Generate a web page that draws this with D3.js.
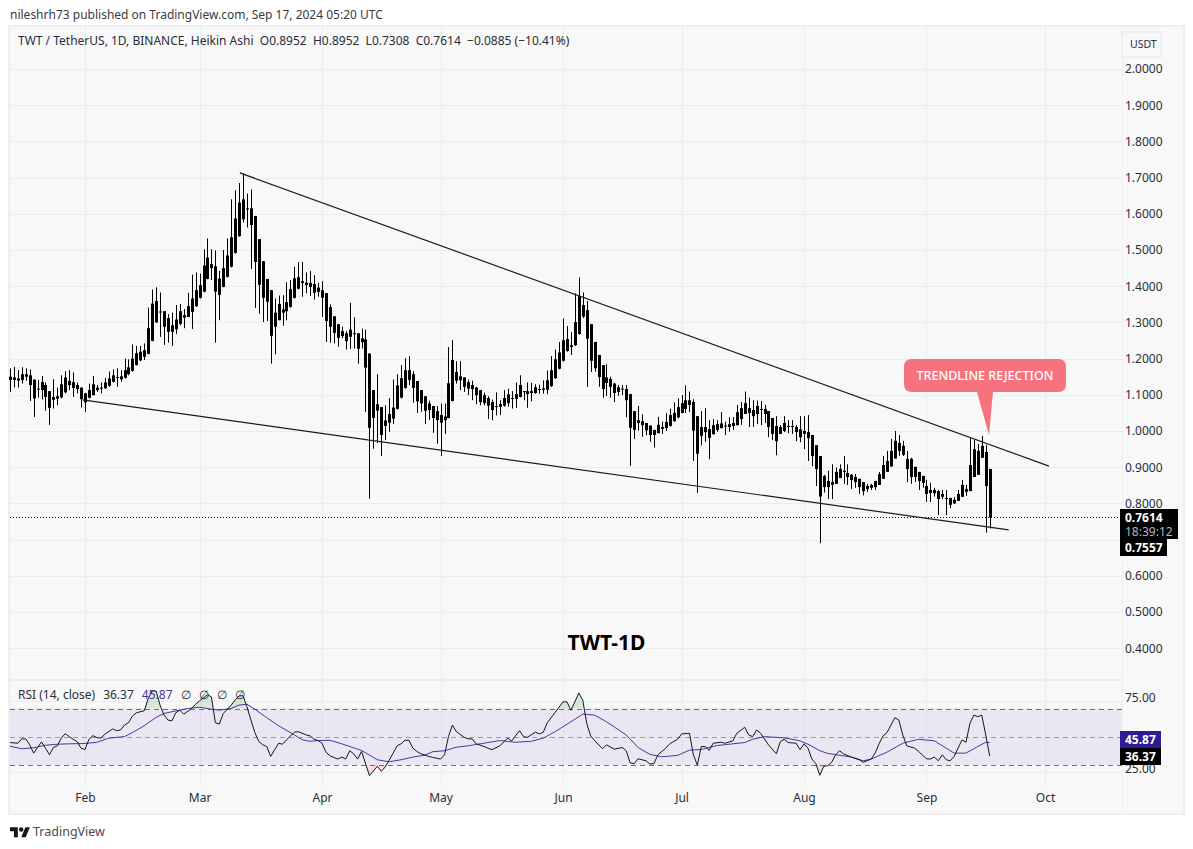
<!DOCTYPE html>
<html><head><meta charset="utf-8">
<script src="https://cdnjs.cloudflare.com/ajax/libs/d3/7.8.5/d3.min.js"></script>
<style>html,body{margin:0;padding:0;background:#fff}svg{display:block}text{font-family:"Noto Sans",sans-serif}</style>
</head><body><svg id="c" width="1193" height="849"></svg>
<script>
const firstDay = Date.UTC(2024,0,13);
const candleHigh = [1.173,1.177,1.168,1.176,1.173,1.170,1.142,1.141,1.152,1.134,
1.110,1.143,1.120,1.154,1.165,1.168,1.162,1.134,1.120,1.104,
1.131,1.152,1.127,1.134,1.147,1.164,1.170,1.173,1.168,1.200,
1.198,1.239,1.235,1.235,1.242,1.341,1.391,1.397,1.383,1.331,
1.323,1.327,1.348,1.351,1.337,1.382,1.432,1.438,1.435,1.502,
1.532,1.502,1.499,1.442,1.500,1.532,1.640,1.665,1.685,1.712,
1.656,1.667,1.594,1.530,1.469,1.420,1.389,1.366,1.374,1.375,
1.411,1.417,1.454,1.466,
1.467,1.438,1.442,1.431,1.409,1.414,1.381,1.350,1.317,1.295,
1.288,1.276,1.354,1.314,1.270,1.283,1.280,1.214,1.113,1.157,
1.066,1.071,1.091,1.142,1.157,1.182,1.201,1.207,1.165,1.138,
1.113,1.096,1.084,1.069,1.069,1.076,1.076,1.232,1.251,1.193,
1.193,1.148,1.142,1.139,1.122,1.113,1.106,1.096,1.087,1.107,
1.085,1.113,1.117,1.110,1.134,1.154,1.110,1.134,1.133,1.129,
1.128,1.140,1.167,1.207,1.225,1.246,1.311,1.290,1.273,1.380,1.424,1.383,
1.359,1.295,1.246,1.210,1.182,1.184,1.150,1.133,1.127,1.127,
1.127,1.102,1.055,1.069,1.046,1.022,1.015,1.003,1.039,1.026,
1.049,1.062,1.079,1.090,1.099,1.126,1.109,1.088,1.041,1.055,
1.063,1.030,1.033,1.030,1.052,1.026,1.038,1.038,1.072,1.080,
1.109,1.092,1.085,1.084,1.083,1.072,1.055,1.036,1.041,1.016,
1.041,1.030,1.030,1.016,1.041,1.041,1.044,0.989,0.961,
0.931,0.879,0.890,0.908,0.899,0.908,0.931,0.908,0.881,0.881,
0.868,0.859,0.854,0.854,0.862,0.887,0.931,0.945,0.978,1.000,
0.989,0.973,0.945,0.926,0.901,0.887,0.876,0.865,0.857,0.843,
0.837,0.837,0.837,0.815,0.818,0.837,0.865,0.851,0.980,0.975,0.964,0.986,0.962,0.8952];
const candleTop = [1.150,1.148,1.145,1.157,1.157,1.154,1.142,1.117,1.135,1.127,
1.110,1.094,1.096,1.129,1.148,1.138,1.135,1.127,1.120,1.104,
1.113,1.129,1.120,1.120,1.134,1.145,1.154,1.149,1.151,1.168,
1.176,1.200,1.215,1.219,1.223,1.284,1.352,1.359,1.330,1.331,
1.312,1.292,1.308,1.331,1.320,1.345,1.366,1.389,1.403,1.457,
1.479,1.461,1.455,1.421,1.450,1.485,1.535,1.587,1.631,1.640,
1.615,1.615,1.594,1.530,1.469,1.420,1.389,1.327,1.351,1.336,
1.356,1.392,1.422,1.425,
1.414,1.410,1.409,1.406,1.396,1.389,1.381,1.342,1.317,1.295,
1.276,1.270,1.280,1.270,1.270,1.256,1.253,1.214,1.113,1.074,
1.066,1.029,1.047,1.065,1.126,1.146,1.168,1.168,1.157,1.138,
1.113,1.096,1.076,1.069,1.055,1.044,1.040,1.132,1.196,1.163,
1.151,1.148,1.135,1.127,1.120,1.113,1.099,1.091,1.080,1.069,
1.074,1.091,1.101,1.091,1.102,1.127,1.110,1.110,1.110,1.121,
1.116,1.118,1.140,1.168,1.198,1.217,1.251,1.254,1.237,1.301,1.373,1.348,
1.334,1.295,1.246,1.210,1.182,1.148,1.144,1.131,1.121,1.117,
1.116,1.102,1.055,1.030,1.027,1.022,1.015,1.003,1.017,1.011,
1.025,1.044,1.050,1.066,1.077,1.085,1.085,1.080,1.041,1.011,
1.011,1.005,1.016,1.019,1.021,1.015,1.019,1.022,1.052,1.063,
1.077,1.063,1.058,1.069,1.061,1.061,1.055,1.036,1.014,1.011,
1.022,1.014,1.014,1.011,1.005,1.000,0.997,0.989,0.961,
0.931,0.876,0.862,0.859,0.887,0.895,0.890,0.884,0.879,0.873,
0.868,0.859,0.848,0.851,0.862,0.881,0.906,0.917,0.945,0.973,
0.967,0.959,0.923,0.923,0.901,0.887,0.876,0.848,0.837,0.837,
0.834,0.826,0.815,0.815,0.810,0.826,0.851,0.840,0.906,0.950,0.945,0.959,0.942,0.8952];
const candleBottom = [1.141,1.141,1.139,1.141,1.150,1.127,1.090,1.116,1.113,1.094,
1.064,1.086,1.089,1.093,1.107,1.127,1.119,1.116,1.088,1.079,
1.092,1.099,1.113,1.117,1.118,1.125,1.136,1.147,1.143,1.147,
1.157,1.166,1.182,1.195,1.205,1.213,1.249,1.300,1.328,1.288,
1.274,1.274,1.281,1.296,1.313,1.315,1.329,1.345,1.368,1.385,
1.420,1.450,1.385,1.376,1.398,1.426,1.454,1.492,1.538,1.585,
1.613,1.569,1.467,1.404,1.368,1.357,1.263,1.288,1.306,1.327,
1.331,1.343,1.368,1.393,
1.409,1.403,1.398,1.382,1.384,1.368,1.304,1.288,1.271,1.257,
1.262,1.248,1.260,1.268,1.227,1.245,1.175,1.009,1.036,1.056,
0.989,1.014,1.023,1.034,1.061,1.092,1.119,1.141,1.119,1.082,
1.076,1.056,1.058,1.036,1.030,1.023,1.030,1.036,1.083,1.139,
1.140,1.122,1.117,1.116,1.099,1.080,1.077,1.070,1.058,1.067,
1.067,1.070,1.077,1.089,1.089,1.094,1.108,1.102,1.105,1.105,
1.114,1.114,1.114,1.124,1.146,1.172,1.194,1.221,1.232,1.237,1.268,1.316,
1.255,1.194,1.173,1.149,1.116,1.133,1.122,1.105,1.108,1.115,
1.085,1.009,1.003,1.022,1.016,1.002,0.989,0.989,0.994,1.006,
1.008,1.014,1.027,1.038,1.050,1.061,1.072,1.001,0.937,0.987,
0.997,0.981,0.991,1.003,1.008,1.012,1.011,1.014,1.016,1.033,
1.047,1.050,1.041,1.047,1.059,1.047,1.011,0.992,0.972,0.992,
1.000,1.012,1.011,0.997,0.983,0.992,0.980,0.931,0.895,
0.819,0.845,0.845,0.851,0.854,0.870,0.887,0.873,0.865,0.859,
0.845,0.834,0.840,0.843,0.845,0.851,0.868,0.887,0.902,0.924,
0.945,0.934,0.895,0.873,0.873,0.862,0.857,0.826,0.829,0.828,
0.812,0.818,0.813,0.796,0.800,0.807,0.818,0.832,0.834,0.873,0.879,0.926,0.848,0.7614];
const candleLow = [1.108,1.120,1.120,1.131,1.139,1.083,1.039,1.092,1.087,1.056,
1.017,1.062,1.071,1.090,1.104,1.113,1.094,1.104,1.065,1.053,
1.090,1.099,1.108,1.104,1.117,1.122,1.134,1.122,1.136,1.145,
1.154,1.164,1.181,1.193,1.196,1.212,1.248,1.299,1.260,1.238,
1.244,1.235,1.268,1.292,1.284,1.315,1.282,1.343,1.366,1.383,
1.419,1.417,1.244,1.306,1.397,1.424,1.452,1.490,1.537,1.576,
1.562,1.448,1.340,1.324,1.301,1.304,1.186,1.212,1.306,1.291,
1.306,1.341,1.366,1.391,
1.371,1.380,1.373,1.363,1.371,1.315,1.246,1.244,1.242,1.233,
1.256,1.225,1.227,1.228,1.186,1.228,1.053,0.813,0.951,0.967,
0.931,0.975,0.998,1.019,1.059,1.090,1.117,1.127,1.078,1.050,
1.053,1.019,1.030,0.995,0.965,0.931,0.992,1.035,1.082,1.131,
1.113,1.108,1.099,1.085,1.074,1.071,1.071,1.033,1.030,1.043,
1.044,1.067,1.067,1.062,1.064,1.093,1.085,1.064,1.082,1.103,
1.103,1.103,1.102,1.122,1.144,1.170,1.192,1.219,1.210,1.235,1.266,1.312,
1.122,1.163,1.164,1.122,1.092,1.097,1.092,1.080,1.097,1.099,
1.038,0.904,0.978,1.001,0.984,0.988,0.970,0.954,0.994,0.992,
1.000,1.012,1.026,1.035,1.049,1.050,1.053,0.917,0.829,0.960,
0.970,0.922,0.991,0.998,1.007,0.989,0.998,1.003,1.016,1.017,
1.047,1.011,1.011,1.019,1.016,1.022,0.983,0.975,0.933,0.992,
0.997,0.994,0.992,0.972,0.969,0.950,0.917,0.903,0.848,
0.690,0.830,0.812,0.812,0.854,0.870,0.854,0.851,0.840,0.843,
0.826,0.822,0.832,0.837,0.837,0.851,0.868,0.887,0.902,0.924,
0.931,0.931,0.859,0.854,0.859,0.837,0.843,0.804,0.804,0.819,
0.768,0.812,0.768,0.787,0.799,0.807,0.818,0.821,0.834,0.873,0.879,0.926,0.719,0.7308];

const rsiDay = [0,2,3,4,5,6,7,8,9,10,11,12,13,14,15,16,17,18,19,20,21,22,23,24,26,27,28,29,30,31,32,34,35,36,37,38,39,40,41,42,43,44,46,47,48,50,51,52,53,54,56,57,58,59,60,61,62,63,64,65,66,67,68,69,70,72,73,75,76,77,78,79,80,81,83,84,85,86,87,88,89,91,93,94,95,97,98,99,100,101,102,103,104,106,107,109,110,111,112,113,115,116,117,118,120,122,124,126,127,129,130,131,133,134,135,136,138,140,141,142,143,144,145,146,147,148,150,151,153,155,156,157,158,159,161,162,163,164,166,167,169,170,172,173,174,175,176,177,178,180,181,183,184,186,187,188,189,190,192,194,195,196,197,199,200,201,202,203,204,205,206,207,208,209,210,211,213,215,216,218,219,220,221,222,224,225,226,227,229,230,232,233,234,235,236,237,238,239,241,242,243,244,245,246,247,248];
const rsiValue = [45.9,45.4,48.5,48.5,44.3,38.4,42.4,46.4,41.9,37.3,42.4,43.6,49.0,52.2,50.1,48.2,46.6,41.9,41.0,48.2,50.8,49.4,49.0,51.8,55.5,54.3,54.8,58.3,59.9,64.6,67.0,68.4,77.0,82.4,82.4,72.4,65.3,61.8,61.3,67.0,68.8,66.0,70.0,73.0,75.4,79.8,78.2,59.9,59.0,66.5,72.4,75.9,78.9,79.1,71.2,61.8,52.9,46.6,44.3,43.1,36.1,40.8,45.4,44.7,47.8,53.2,53.6,51.3,50.6,48.2,47.3,45.4,39.1,36.5,34.2,35.6,34.2,40.1,37.9,34.2,39.6,22.5,29.1,25.5,28.6,38.4,43.6,45.0,47.5,47.5,41.9,39.6,38.0,36.1,35.4,34.2,37.2,50.1,58.3,53.6,49.6,48.5,48.5,45.0,43.1,40.8,43.6,49.0,47.1,54.3,50.1,49.6,53.2,52.0,53.2,59.9,67.2,74.7,74.7,68.8,74.7,81.0,75.9,59.5,50.6,47.3,41.5,44.3,41.2,42.4,40.1,31.4,30.9,34.4,33.0,30.7,30.9,37.2,41.9,45.0,48.2,52.0,52.5,37.2,30.0,43.1,43.1,40.3,45.4,46.1,45.4,47.1,52.5,56.7,51.3,50.1,54.8,52.5,44.3,37.9,46.6,48.2,45.9,45.4,40.8,45.0,41.9,34.2,30.9,22.7,29.1,29.5,31.9,37.2,40.1,37.9,35.6,33.7,31.9,34.2,38.4,45.0,50.6,52.9,63.5,61.8,51.3,43.6,41.9,39.6,34.4,34.2,35.6,33.0,37.2,33.7,33.0,36.1,47.8,46.1,59.5,65.3,64.2,65.3,51.3,36.37];
const rsiMaDay = [0,3,6,9,12,15,19,22,25,29,31,34,37,39,41,45,48,51,53,56,58,60,62,65,68,72,74,76,78,81,84,89,93,96,99,102,105,107,110,113,116,121,124,128,132,135,138,142,145,148,151,156,159,162,165,169,172,175,179,183,186,188,191,196,197,200,202,205,207,213,216,218,222,226,230,234,237,239,242,245,247,248];
const rsiMaValue = [43.3,41.5,42.2,44.0,44.7,45.0,45.2,46.1,49.0,50.1,52.9,57.8,63.7,66.5,67.7,70.0,70.9,69.5,68.8,70.0,72.4,73.0,69.5,63.5,57.8,51.3,47.8,46.8,47.3,47.5,45.0,40.3,33.7,32.3,33.7,35.6,37.0,39.4,40.1,42.6,43.6,45.9,47.3,46.1,46.8,49.0,53.6,60.6,66.0,65.3,60.6,51.3,42.4,37.5,35.8,36.8,40.5,41.0,43.8,45.0,45.9,48.2,50.1,49.2,48.7,47.1,44.7,40.1,38.2,35.6,33.0,34.2,39.1,45.4,48.2,47.1,41.9,38.4,38.4,43.1,46.1,45.87];

const priceTicks = [2.0,1.9,1.8,1.7,1.6,1.5,1.4,1.3,1.2,1.1,1.0,0.9,0.8,0.7,0.6,0.5,0.4];
const hiddenPriceLabel = 0.7;
const rsiTicks = [75,25];
const rsiBand = [70,50,30];
const upperTrendDay = [58.2,263], upperTrendPrice = [1.713,0.903];
const lowerTrendDay = [18.4,252.8], lowerTrendPrice = [1.086,0.727];
const lastPrice = 0.7614, lastHeikin = 0.7557, lastRsi = 36.37, lastRsiMa = 45.87;

const svg = d3.select("#c");
const L=10,R=1122,OR=1183,T=27,B=813,PB=680,XB=786;
const bg="#f8f8f8",grid="#ececed",ink="#131722",txt="#2a2e39";
const mono = `"Noto Sans",sans-serif`;
const x = d3.scaleUtc().domain([Date.UTC(2024,1,1),Date.UTC(2024,9,1)]).range([85,1045]);
const y = d3.scaleLinear().domain([1,0]).range([431,793]);
const r = d3.scaleLinear().domain([70,30]).range([708.5,765]);
const dayX = i => x(firstDay+i*864e5);

svg.append("rect").attr("x",L-2).attr("y",T-2).attr("width",OR-L+4).attr("height",B-T+4).attr("fill","#eeeeef");
svg.append("rect").attr("x",L).attr("y",T).attr("width",OR-L).attr("height",B-T).attr("fill",bg);
svg.append("rect").attr("x",L).attr("y",PB-1).attr("width",R-L).attr("height",2).attr("fill","#ececed");
svg.append("rect").attr("x",R).attr("y",T).attr("width",1).attr("height",B-T).attr("fill","#f0f0f1");

// grids
const months = x.ticks(d3.utcMonth.every(1));
svg.append("g").selectAll("line").data(months).join("line")
 .attr("x1",d=>Math.round(x(d))+.5).attr("x2",d=>Math.round(x(d))+.5).attr("y1",T).attr("y2",XB).attr("stroke",grid);
svg.append("g").selectAll("line").data(priceTicks).join("line")
 .attr("x1",L).attr("x2",R).attr("y1",d=>Math.round(y(d))+.5).attr("y2",d=>Math.round(y(d))+.5).attr("stroke",grid);
svg.append("g").selectAll("line").data(rsiTicks).join("line")
 .attr("x1",L).attr("x2",R).attr("y1",d=>Math.round(r(d))+.5).attr("y2",d=>Math.round(r(d))+.5).attr("stroke",grid);

// axes
const yAxis = d3.axisRight(y).tickValues(priceTicks.filter(v=>v!==hiddenPriceLabel)).tickFormat(d3.format(".4f")).tickSize(0).tickPadding(0);
const ya = svg.append("g").attr("transform",`translate(1125,0)`).call(yAxis);
ya.select(".domain").remove();
ya.selectAll("text").attr("font-size",12).attr("fill",txt).attr("font-family",mono);
const rAxis = d3.axisRight(r).tickValues(rsiTicks).tickFormat(d3.format(".2f")).tickSize(0).tickPadding(0);
const ra = svg.append("g").attr("transform",`translate(1125,0)`).call(rAxis);
ra.select(".domain").remove();
ra.selectAll("text").attr("font-size",12).attr("fill",txt).attr("dy","0");
const xAxis = d3.axisBottom(x).tickValues(months).tickFormat(d3.utcFormat("%b")).tickSize(0).tickPadding(0);
const xa = svg.append("g").attr("transform",`translate(0,793)`).call(xAxis);
xa.select(".domain").remove();
xa.selectAll("text").attr("font-size",12).attr("fill",txt);

// candles
const days = d3.range(candleHigh.length);
const cg = svg.append("g").attr("fill","#000");
cg.selectAll(".w").data(days).join("rect").attr("class","w")
 .attr("x",i=>Math.round(dayX(i))).attr("width",1)
 .attr("y",i=>y(candleHigh[i])).attr("height",i=>Math.max(1,y(candleLow[i])-y(candleHigh[i])));
cg.selectAll(".b").data(days).join("rect").attr("class","b")
 .attr("x",i=>Math.round(dayX(i))-1).attr("width",3)
 .attr("y",i=>y(candleTop[i])).attr("height",i=>Math.max(1,y(candleBottom[i])-y(candleTop[i])));

// last price
svg.append("line").attr("x1",L).attr("x2",R).attr("y1",Math.round(y(lastPrice))+.5).attr("y2",Math.round(y(lastPrice))+.5)
 .attr("stroke","#000").attr("stroke-dasharray","1 2");

// trend lines
const tl = d3.line().x(d=>dayX(d[0])).y(d=>y(d[1]));
svg.append("path").attr("d",tl(d3.zip(upperTrendDay,upperTrendPrice))).attr("fill","none").attr("stroke","#1b1b1f").attr("stroke-width",1.2);
svg.append("path").attr("d",tl(d3.zip(lowerTrendDay,lowerTrendPrice))).attr("fill","none").attr("stroke","#1b1b1f").attr("stroke-width",1.2);

// callout
const co = "#f7727f";
svg.append("path").attr("fill",co).attr("d",()=>{const p=d3.path();
 p.moveTo(912,359);p.lineTo(1058,359);p.quadraticCurveTo(1066,359,1066,367);p.lineTo(1066,384);p.quadraticCurveTo(1066,392,1058,392);
 p.lineTo(993,392);p.lineTo(989,435);p.lineTo(977,392);p.lineTo(912,392);p.quadraticCurveTo(904,392,904,384);p.lineTo(904,367);p.quadraticCurveTo(904,359,912,359);p.closePath();return p;});
svg.append("text").attr("x",985).attr("y",380).attr("text-anchor","middle").attr("font-size",12.5).attr("fill","#fff").attr("font-weight",500).text("TRENDLINE REJECTION");
svg.append("text").attr("x",606.5).attr("y",650).attr("text-anchor","middle").attr("font-size",21).attr("font-weight",700).attr("fill","#000").attr("font-family","DejaVu Sans").text("TWT-1D");

// RSI
svg.append("rect").attr("x",L).attr("width",R-L).attr("y",r(70)).attr("height",r(30)-r(70)).attr("fill","#7e57c2").attr("opacity",.1);
svg.append("g").selectAll("line").data(rsiBand).join("line")
 .attr("x1",L).attr("x2",R).attr("y1",d=>Math.round(r(d))+.5).attr("y2",d=>Math.round(r(d))+.5)
 .attr("stroke",d=>d===50?"#9b9ca5":"#6f7180").attr("stroke-dasharray","5 4");
const defs=svg.append("defs");
defs.append("clipPath").attr("id","ob").append("rect").attr("x",L).attr("width",R-L).attr("y",680).attr("height",r(70)-680);
defs.append("clipPath").attr("id","os").append("rect").attr("x",L).attr("width",R-L).attr("y",r(30)).attr("height",40);
const rsiPts = d3.zip(rsiDay,rsiValue);
const ar = v=>d3.area().x(d=>dayX(d[0])).y0(r(v)).y1(d=>r(d[1]))(rsiPts);
svg.append("path").attr("d",ar(70)).attr("fill","#4caf50").attr("opacity",.2).attr("clip-path","url(#ob)");
svg.append("path").attr("d",ar(30)).attr("fill","#f23645").attr("opacity",.15).attr("clip-path","url(#os)");
const rl = d3.line().x(d=>dayX(d[0])).y(d=>r(d[1]));
svg.append("path").attr("d",rl(d3.zip(rsiMaDay,rsiMaValue))).attr("fill","none").attr("stroke","#4a35a8").attr("stroke-width",1);
svg.append("path").attr("d",rl(rsiPts)).attr("fill","none").attr("stroke","#16161a").attr("stroke-width",1);

// right tags
function tag(yTop,h,w,fill){svg.append("rect").attr("x",1120).attr("y",yTop).attr("width",w).attr("height",h).attr("fill",fill);}
tag(509,30,58,"#000");
tag(539,17,47,"#000");
tag(731,17,41,"#311b92");
tag(748,17,41,"#000");
const t=(x0,y0,s,fs,fill,extra={})=>{const e=svg.append("text").attr("x",x0).attr("y",y0).attr("font-size",fs).attr("fill",fill).text(s);for(const k in extra)e.attr(k,extra[k]);return e;};
t(1125,522,d3.format(".4f")(lastPrice),12,"#fff",{"font-weight":700});
t(1125,536,"18:39:12",12,"#b5b5b8");
t(1125,552,d3.format(".4f")(lastHeikin),12,"#fff",{"font-weight":700});
t(1125,744,d3.format(".2f")(lastRsiMa),12,"#fff",{"font-weight":700});
t(1125,761,d3.format(".2f")(lastRsi),12,"#fff",{"font-weight":700});
svg.append("rect").attr("x",1122).attr("y",32).attr("width",39).attr("height",25).attr("fill",bg).attr("stroke","#e6e6e8");
t(1130,48,"USDT",10.5,txt);

// headers
t(10,19,"nileshrh73 published on TradingView.com, Sep 17, 2024 05:20 UTC",12,"#3a3a3f");
t(18,45,"TWT / TetherUS, 1D, BINANCE, Heikin Ashi  O0.8952  H0.8952  L0.7308  C0.7614  −0.0885 (−10.41%)",12,txt,{"xml:space":"preserve"});
const rh=t(18,699,"",12,txt);
rh.append("tspan").text("RSI (14, close)");
rh.append("tspan").attr("dx",8).text("36.37");
rh.append("tspan").attr("dx",8).attr("fill","#4a35a8").text("45.87");
["∅","∅","∅","∅"].forEach(s=>rh.append("tspan").attr("dx",8).text(s));

// footer logo
const lg=svg.append("g").attr("transform","translate(10,825) scale(.56)").attr("fill","#131722");
lg.append("path").attr("d","M14 22H7V11H0V4h14v18zM28 22h-8l7.5-18h8L28 22z");
lg.append("circle").attr("cx",20).attr("cy",8).attr("r",4);
t(33,836,"TradingView",12.5,"#4a4a4f");
</script></body></html>
